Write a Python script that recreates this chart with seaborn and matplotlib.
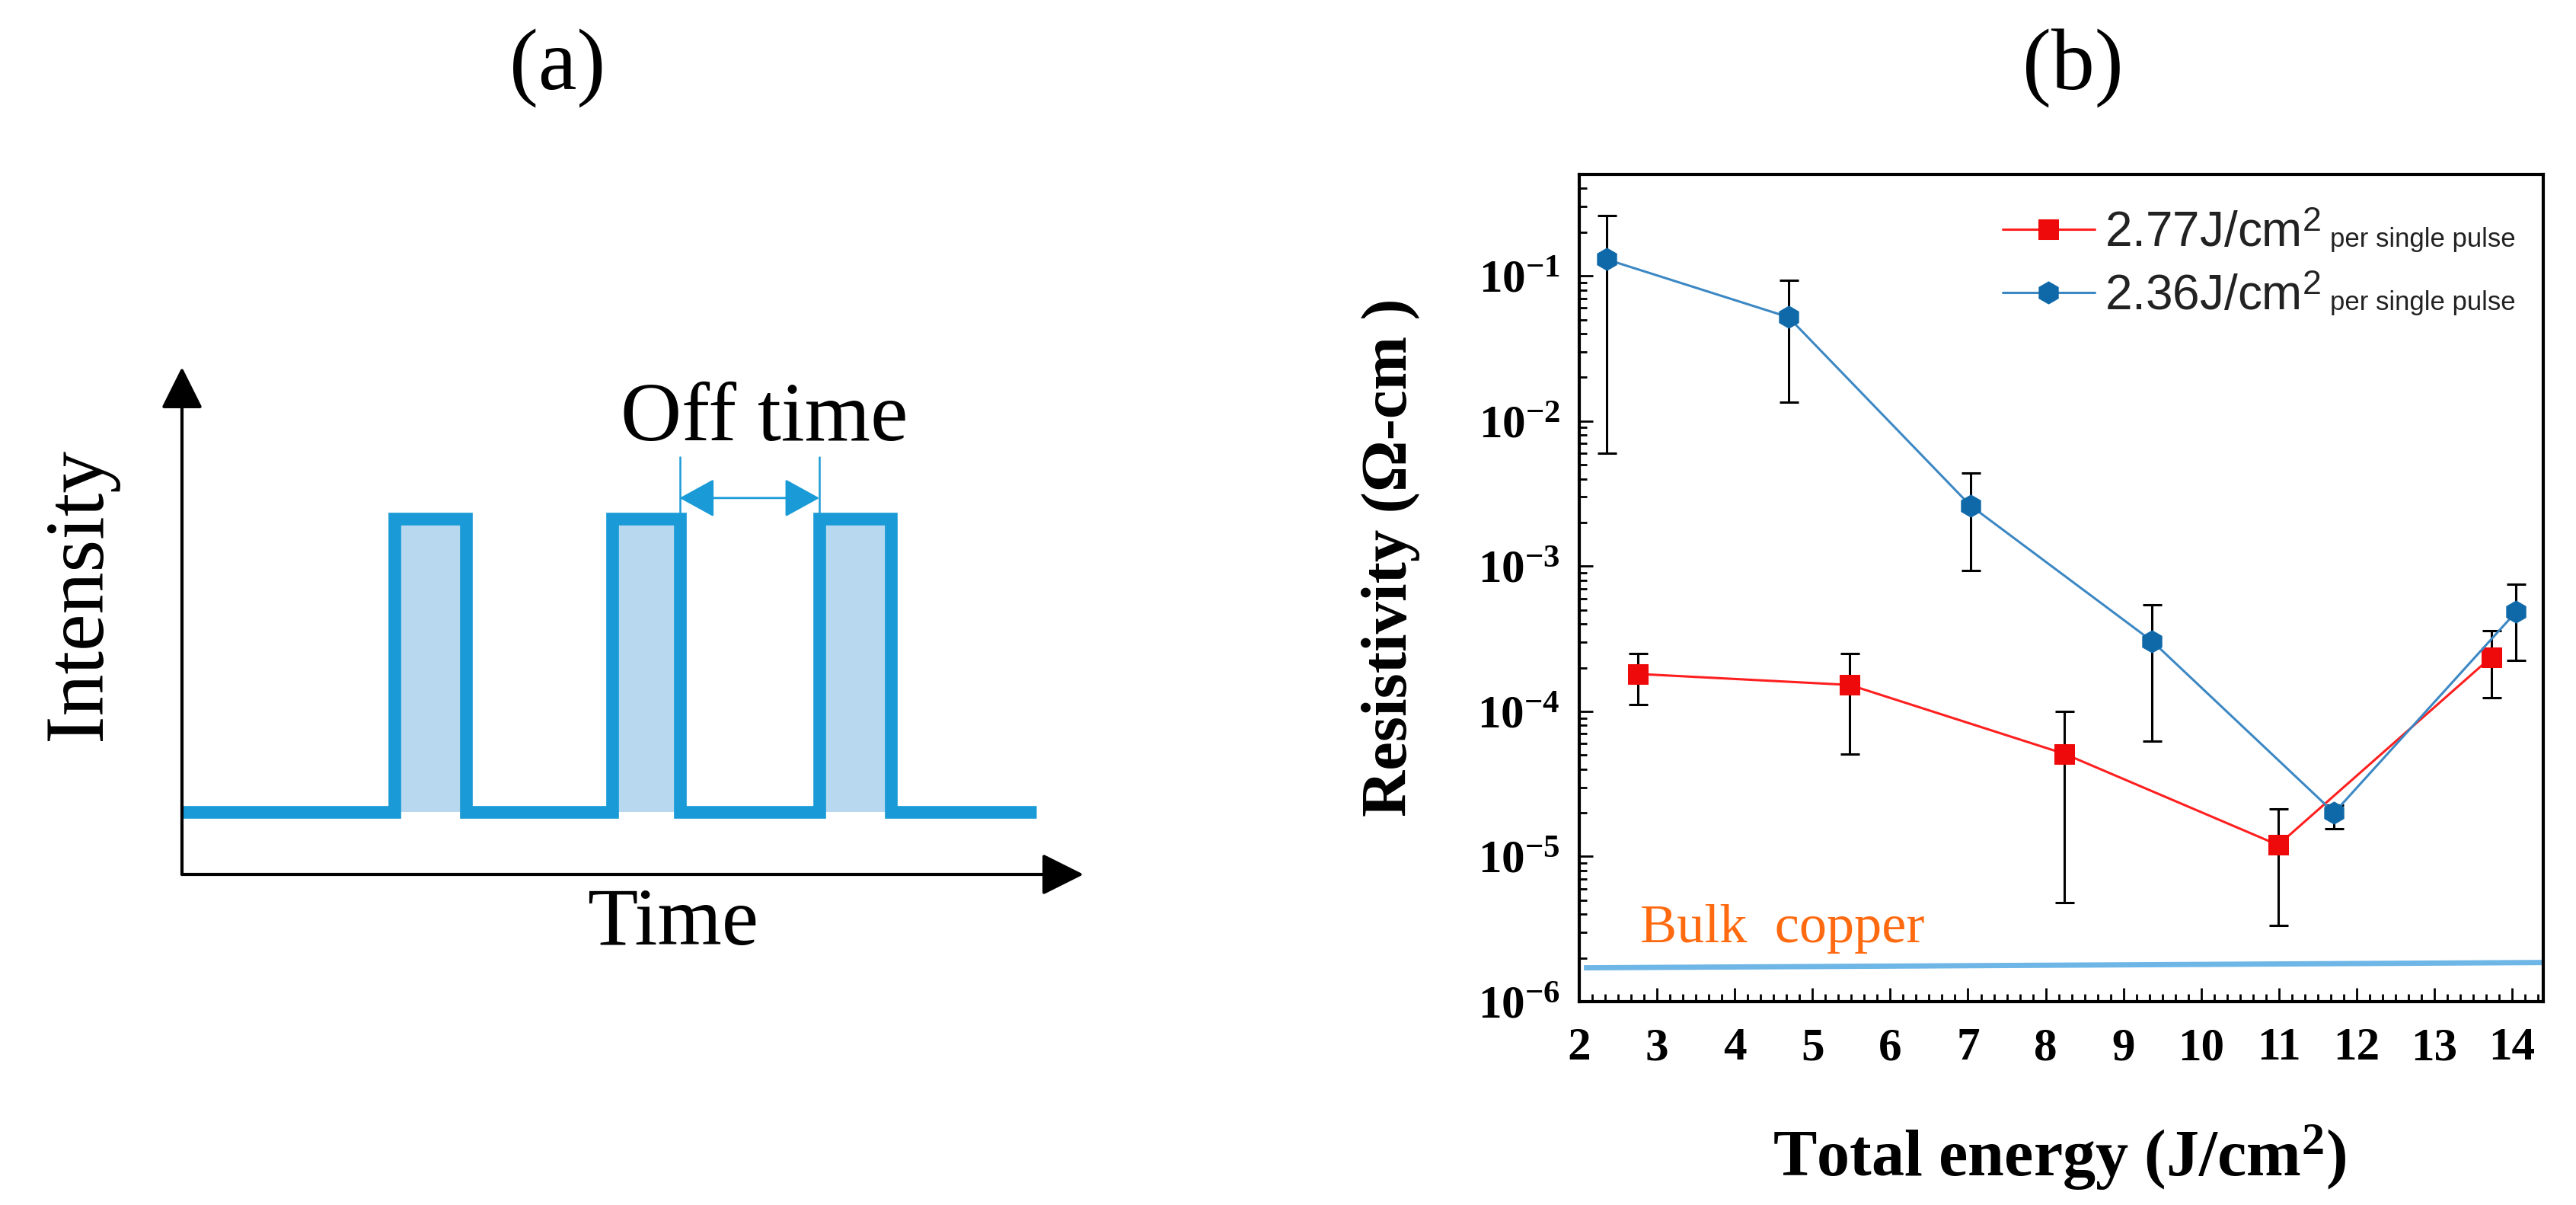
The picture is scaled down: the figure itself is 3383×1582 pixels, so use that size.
import numpy as np
import matplotlib
matplotlib.use("Agg")
import matplotlib.pyplot as plt
from matplotlib.ticker import MultipleLocator, LogLocator, FixedLocator, NullFormatter
import seaborn as sns

# ---------------- data ----------------
# panel (b)
energy_236 = [2.35, 4.69, 7.03, 9.37, 11.71, 14.05]
rho_236 = [0.13, 0.052, 2.62e-3, 3.04e-4, 2.0e-5, 4.84e-4]
rho_236_hi = [0.26, 0.093, 4.4e-3, 5.45e-4, 2.27e-5, 7.5e-4]
rho_236_lo = [6.0e-3, 1.35e-2, 9.3e-4, 6.2e-5, 1.55e-5, 2.24e-4]

energy_277 = [2.75, 5.48, 8.24, 10.99, 13.73]
rho_277 = [1.81e-4, 1.52e-4, 5.1e-5, 1.2e-5, 2.36e-4]
rho_277_hi = [2.5e-4, 2.5e-4, 1.0e-4, 2.13e-5, 3.6e-4]
rho_277_lo = [1.11e-4, 5.1e-5, 4.8e-6, 3.36e-6, 1.24e-4]

bulk_x = [2.06, 14.4]
bulk_rho = [1.71e-6, 1.86e-6]

x_ticks = [2, 3, 4, 5, 6, 7, 8, 9, 10, 11, 12, 13, 14]
y_ticks = [1e-6, 1e-5, 1e-4, 1e-3, 1e-2, 1e-1]
y_ticklabels = [r"$\mathbf{10^{-6}}$", r"$\mathbf{10^{-5}}$", r"$\mathbf{10^{-4}}$",
                r"$\mathbf{10^{-3}}$", r"$\mathbf{10^{-2}}$", r"$\mathbf{10^{-1}}$"]
label_277 = r"2.77J/cm$^{\mathrm{2}}$"
label_236 = r"2.36J/cm$^{\mathrm{2}}$"
label_suffix = "per single pulse"

# panel (a) schematic
pulse_start = [23.6, 47.7, 70.7]
pulse_end = [31.5, 55.2, 78.6]
level_low = 12.3
level_high = 70.1
signal_t0, signal_t1 = 0.0, 94.8

# ---------------- style ----------------
sns.set_theme(style="ticks")
plt.rcParams["font.family"] = ["Liberation Serif", "DejaVu Serif"]
plt.rcParams["mathtext.fontset"] = "custom"
plt.rcParams["mathtext.rm"] = "Liberation Sans"
plt.rcParams["mathtext.bf"] = "Liberation Serif:bold"
plt.rcParams["mathtext.it"] = "Liberation Serif:italic"

W, H = 3383, 1582
fig = plt.figure(figsize=(W / 100, H / 100), dpi=100)
fig.patch.set_facecolor("white")

def fx(px):
    return px / W

def fy(py):
    return 1 - py / H

# ================= panel (b) =================
left, right, top, bottom = 2074, 3340, 229, 1315
ax = fig.add_axes([fx(left), fy(bottom), (right - left) / W, (bottom - top) / H])
ax.set_yscale("log")
ax.set_xlim(2, 14.4)
ax.set_ylim(1e-6, 0.5)

red_line = "#FF1F1F"
red_mark = "#EE0A0A"
blue_line = "#3C88C4"
blue_mark = "#0F69A8"

ax.plot(bulk_x, bulk_rho, color="#6DB6E6", lw=5, solid_capstyle="butt", zorder=1)

err_r = [np.array(rho_277) - np.array(rho_277_lo), np.array(rho_277_hi) - np.array(rho_277)]
err_b = [np.array(rho_236) - np.array(rho_236_lo), np.array(rho_236_hi) - np.array(rho_236)]
ax.errorbar(energy_277, rho_277, yerr=err_r, fmt="none", ecolor="black",
            elinewidth=2.2, capsize=9, capthick=2.2, zorder=2)
ax.errorbar(energy_236, rho_236, yerr=err_b, fmt="none", ecolor="black",
            elinewidth=2.2, capsize=9, capthick=2.2, zorder=2)

sns.lineplot(x=energy_277, y=rho_277, ax=ax, color=red_line, lw=2.2, marker="s",
             markersize=19, markerfacecolor=red_mark, markeredgecolor=red_mark,
             estimator=None, sort=False, zorder=3)
line_r = ax.lines[-1]
sns.lineplot(x=energy_236, y=rho_236, ax=ax, color=blue_line, lw=2.2, marker="h",
             markersize=21, markerfacecolor=blue_mark, markeredgecolor=blue_mark,
             estimator=None, sort=False, zorder=3)
line_b = ax.lines[-1]

for s in ax.spines.values():
    s.set_linewidth(3)
    s.set_color("black")
    s.set_visible(True)

ax.xaxis.set_major_locator(FixedLocator(x_ticks))
ax.xaxis.set_minor_locator(MultipleLocator(1 / 6))
ax.yaxis.set_major_locator(FixedLocator(y_ticks))
ax.yaxis.set_minor_locator(LogLocator(base=10, subs=np.arange(2, 10), numticks=20))
ax.yaxis.set_minor_formatter(NullFormatter())
ax.set_xticklabels([str(t) for t in x_ticks])
ax.set_yticklabels(y_ticklabels)
ax.tick_params(axis="both", which="major", direction="in", length=13, width=2,
               color="black", top=False, right=False, labelsize=44, labelcolor="black")
ax.tick_params(axis="both", which="minor", direction="in", length=7, width=2,
               color="black", top=False, right=False)
ax.tick_params(axis="x", which="major", pad=24)
ax.tick_params(axis="y", which="major", pad=18)
for lab in ax.get_xticklabels():
    lab.set_fontweight("bold")

ax.set_xlabel(r"Total energy (J/cm$^{\mathbf{2}}$)", fontsize=62, fontweight="bold", color="black")
ax.set_ylabel("Resistivity (\u03a9-cm )", fontsize=61, fontweight="bold", color="black")
ax.xaxis.set_label_coords(0.498, -0.146)
ax.yaxis.set_label_coords(-0.165, 0.537)

ax.text(2.78, 2.57e-6, "Bulk  copper", color="#FF6A10", fontsize=52,
        ha="left", va="baseline", family="Liberation Serif")

leg = ax.legend(handles=[line_r, line_b], labels=[label_277, label_236],
                loc="upper left", bbox_to_anchor=(0.439, 0.956), frameon=False,
                prop={"family": "Liberation Sans", "size": 46},
                handlelength=1.9, handletextpad=0.2, labelspacing=0.36,
                borderpad=0, borderaxespad=0)
for t in leg.get_texts():
    t.set_color("#222222")

ax.grid(False)

# ================= panel (a) =================
a_left, a_right, a_top, a_bottom = 239, 1423, 482, 1148
axa = fig.add_axes([fx(a_left), fy(a_bottom), (a_right - a_left) / W, (a_bottom - a_top) / H])
axa.set_xlim(0, 100)
axa.set_ylim(0, 100)
axa.axis("off")

sig_color = "#1A9BD7"
fill_color = "#B7D8EF"

t_pts = [signal_t0]
y_pts = [level_low]
for s_, e_ in zip(pulse_start, pulse_end):
    t_pts += [s_, s_, e_, e_]
    y_pts += [level_low, level_high, level_high, level_low]
t_pts.append(signal_t1)
y_pts.append(level_low)

for s_, e_ in zip(pulse_start, pulse_end):
    axa.fill_between([s_, e_], level_low, level_high, color=fill_color, lw=0, zorder=1)
axa.plot(t_pts, y_pts, color=sig_color, lw=12, solid_joinstyle="miter",
         solid_capstyle="butt", zorder=2, clip_on=False)

arrow_kw = dict(arrowstyle="-|>,head_length=1.0,head_width=0.5", color="black", lw=3,
                mutation_scale=34, shrinkA=0, shrinkB=0)
axa.annotate("", xy=(0, 1), xytext=(0, 0), xycoords="axes fraction",
             textcoords="axes fraction", arrowprops=arrow_kw, annotation_clip=False)
axa.annotate("", xy=(1, 0), xytext=(0, 0), xycoords="axes fraction",
             textcoords="axes fraction", arrowprops=arrow_kw, annotation_clip=False)

off_y = 74.2
axa.annotate("", xy=(pulse_start[2], off_y), xytext=(pulse_end[1], off_y),
             arrowprops=dict(arrowstyle="<|-|>,head_length=1.0,head_width=0.55",
                             color=sig_color, lw=2, mutation_scale=29,
                             shrinkA=0, shrinkB=0))
axa.plot([pulse_end[1], pulse_end[1]], [82.3, level_high], color=sig_color, lw=1.8, zorder=3)
axa.plot([pulse_start[2], pulse_start[2]], [82.3, 59.2], color=sig_color, lw=1.8, zorder=3)

fig.text(fx(1004), fy(578), "Off time", fontsize=80, ha="center", va="baseline", color="black")
fig.text(fx(105), fy(780), "Intensity", fontsize=79, ha="center", va="center",
         rotation=90, color="black")
fig.text(fx(884), fy(1214), "Time", fontsize=78, ha="center", va="center", color="black")
fig.text(fx(732), fy(89), "(a)", fontsize=82, ha="center", va="center", color="black")
fig.text(fx(2722), fy(89), "(b)", fontsize=82, ha="center", va="center", color="black")

# small "per single pulse" suffix after each legend label
fig.canvas.draw()
renderer = fig.canvas.get_renderer()
for t in leg.get_texts():
    bb = t.get_window_extent(renderer)
    prop = t.get_fontproperties()
    _, _, d_txt = renderer.get_text_width_height_descent(t.get_text(), prop, ismath=True)
    _, _, d_lp = renderer.get_text_width_height_descent("lp", prop, ismath=False)
    base = bb.y0 + max(d_txt, d_lp)
    fig.text((bb.x1 + 12) / W, base / H, label_suffix, fontsize=25,
             family="Liberation Sans", color="#222222", ha="left", va="baseline")

fig.savefig("out.png", dpi=100, facecolor="white")
